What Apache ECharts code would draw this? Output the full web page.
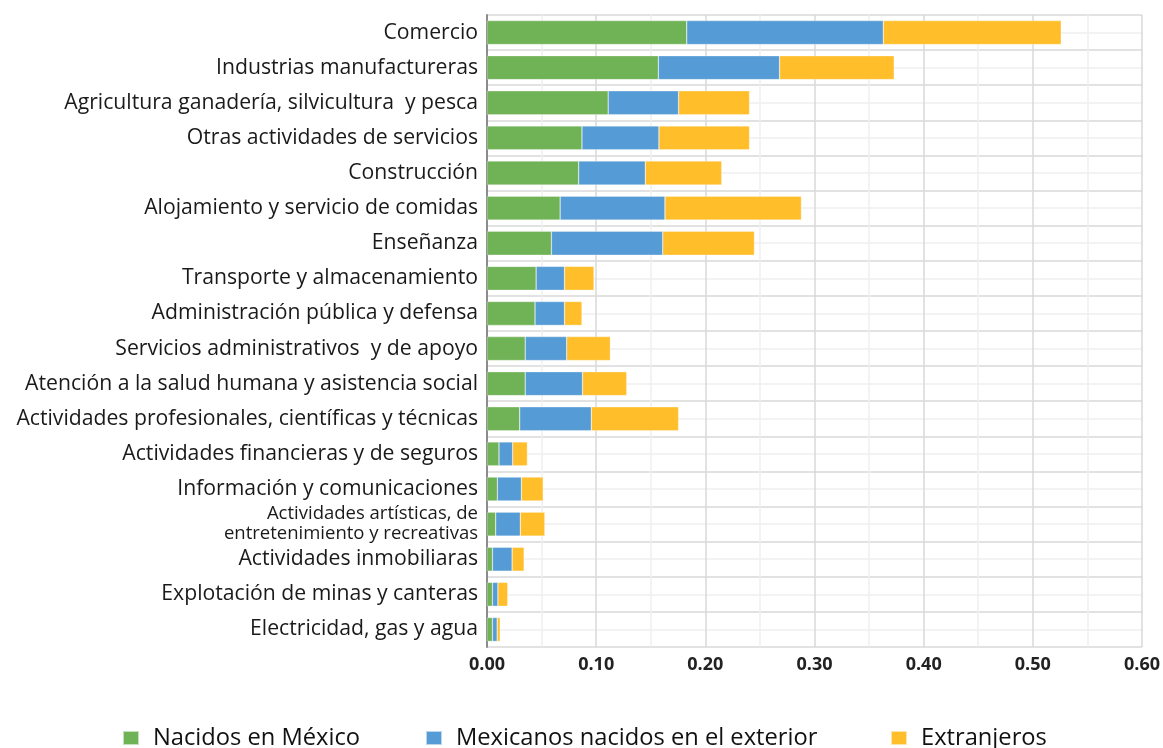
<!DOCTYPE html>
<html>
<head>
<meta charset="utf-8">
<script src="https://cdn.jsdelivr.net/npm/echarts@6/dist/echarts.min.js"></script>
<style>html,body{margin:0;padding:0;background:#fff}#c{width:1163px;height:748px}</style>
</head>
<body>
<div id="c"></div>
<script>
const categories = [
  "Comercio",
  "Industrias manufactureras",
  "Agricultura ganadería, silvicultura  y pesca",
  "Otras actividades de servicios",
  "Construcción",
  "Alojamiento y servicio de comidas",
  "Enseñanza",
  "Transporte y almacenamiento",
  "Administración pública y defensa",
  "Servicios administrativos  y de apoyo",
  "Atención a la salud humana y asistencia social",
  "Actividades profesionales, científicas y técnicas",
  "Actividades financieras y de seguros",
  "Información y comunicaciones",
  "Actividades artísticas, de\nentretenimiento y recreativas",
  "Actividades inmobiliaras",
  "Explotación de minas y canteras",
  "Electricidad, gas y agua"
];
const nacidosMexico = [0.183, 0.157, 0.111, 0.087, 0.084, 0.067, 0.059, 0.045, 0.044, 0.035, 0.035, 0.030, 0.011, 0.0095, 0.008, 0.005, 0.005, 0.005];
const mexicanosExterior = [0.180, 0.111, 0.0645, 0.0705, 0.061, 0.096, 0.102, 0.026, 0.027, 0.038, 0.0525, 0.0655, 0.0125, 0.022, 0.0225, 0.018, 0.005, 0.0043];
const extranjeros = [0.163, 0.105, 0.065, 0.083, 0.070, 0.125, 0.084, 0.027, 0.016, 0.040, 0.0405, 0.080, 0.0135, 0.020, 0.0225, 0.011, 0.009, 0.0028];
const seriesNames = ["Nacidos en México", "Mexicanos nacidos en el exterior", "Extranjeros"];
const colors = ["#70b256", "#559bd5", "#ffbe2a"];

const chart = echarts.init(document.getElementById('c'));
const FONT = 'Open Sans';
function legendAt(name, left) {
  return {
    data: [name], left: left, top: 726, padding: 0, itemWidth: 16, itemHeight: 14, icon: 'rect',
    textStyle: { fontFamily: FONT, fontSize: 23.7, color: '#111', padding: [0, 0, 0, 9] }
  };
}
chart.setOption({
  animation: false,
  textStyle: { fontFamily: FONT },
  grid: { left: 487, right: 14, top: 15, bottom: 101, containLabel: false },
  legend: [legendAt(seriesNames[0], 122), legendAt(seriesNames[1], 425), legendAt(seriesNames[2], 890)],
  xAxis: {
    type: 'value', min: 0, max: 0.6, interval: 0.1,
    axisLine: { show: false }, axisTick: { show: false },
    axisLabel: { fontFamily: FONT, fontSize: 18, fontWeight: 'bold', color: '#222', margin: 9,
      formatter: v => v.toFixed(2) },
    splitLine: { show: true, lineStyle: { color: '#d9d9d9', width: 1.5 } },
    minorTick: { show: false, splitNumber: 2 },
    minorSplitLine: { show: true, lineStyle: { color: '#efefef', width: 1.5 } }
  },
  yAxis: [{
    type: 'category', data: categories, inverse: true,
    axisLine: { show: true, lineStyle: { color: '#8c8c8c', width: 2 } },
    axisTick: { show: false },
    splitLine: { show: false },
    axisLabel: {
      fontFamily: FONT, fontSize: 21.2, color: '#1a1a1a', margin: 9,
      formatter: v => v.indexOf('\n') >= 0 ? v.split('\n').map(s => '{s|' + s + '}').join('\n') : v,
      rich: { s: { fontFamily: FONT, fontSize: 18.5, lineHeight: 20, color: '#1a1a1a', align: 'right' } }
    }
  }, {
    type: 'value', min: 0, max: 18, interval: 0.5, position: 'right',
    axisLine: { show: false }, axisTick: { show: false }, axisLabel: { show: false },
    splitLine: { show: true, lineStyle: { color: ['#d9d9d9', '#efefef'], width: 1.5 } }
  }],
  series: [nacidosMexico, mexicanosExterior, extranjeros].map((d, i) => ({
    name: seriesNames[i], type: 'bar', stack: 'total', data: d, yAxisIndex: 0,
    barCategoryGap: '32%', itemStyle: { color: colors[i], borderColor: 'rgba(255,255,255,0.6)', borderWidth: 0.5 }
  }))
});
</script>
</body>
</html>
